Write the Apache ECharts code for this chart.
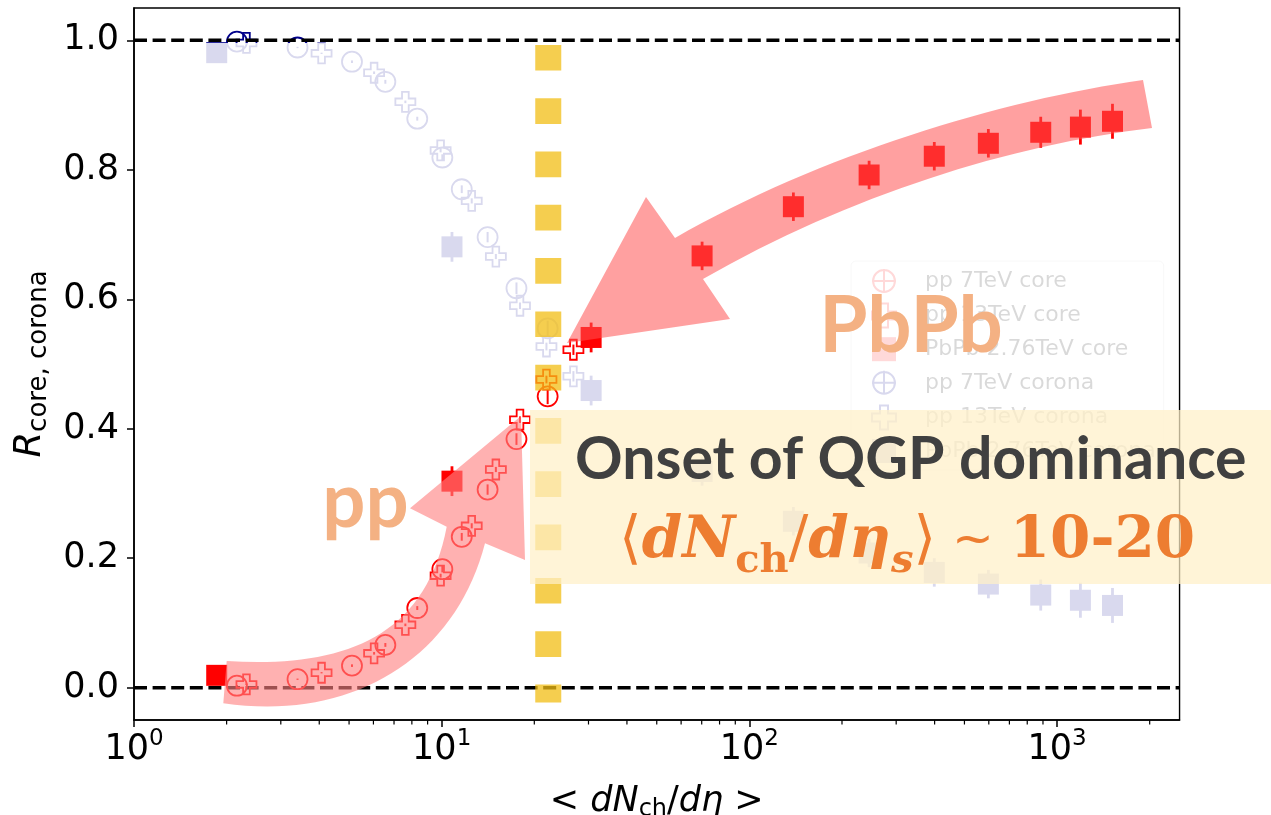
<!DOCTYPE html>
<html>
<head>
<meta charset="utf-8">
<script src="https://cdn.jsdelivr.net/npm/echarts@6/dist/echarts.min.js"></script>
<style>
  html, body { margin: 0; padding: 0; background: #ffffff; }
  #chart { width: 1271px; height: 815px; }
</style>
</head>
<body>
<div id="chart"></div>
<script>
// ---- event classes: <dN_ch/deta> and core / corona fractions ----
const pp7X       = [2.16, 3.40, 5.11, 6.56, 8.33, 10.05, 11.62, 14.1, 17.5, 22.1];
const pp7Core    = [0.003, 0.013, 0.034, 0.066, 0.123, 0.183, 0.233, 0.306, 0.384, 0.450];
const pp7Corona  = [0.998, 0.989, 0.967, 0.936, 0.879, 0.819, 0.770, 0.696, 0.617, 0.555];
const pp7Err     = [0.001, 0.001, 0.002, 0.003, 0.003, 0.005, 0.006, 0.008, 0.009, 0.012];

const pp13X      = [2.32, 4.07, 6.03, 7.62, 9.92, 12.52, 15.0, 17.97, 21.9, 26.8];
const pp13Core   = [0.005, 0.023, 0.053, 0.097, 0.173, 0.250, 0.337, 0.414, 0.476, 0.522];
const pp13Corona = [0.996, 0.980, 0.950, 0.905, 0.830, 0.752, 0.666, 0.590, 0.527, 0.481];
const pp13Err    = [0.001, 0.001, 0.002, 0.002, 0.003, 0.004, 0.004, 0.005, 0.006, 0.008];

const pbX        = [1.857, 10.8, 30.6, 70.2, 139, 245, 399, 598, 885, 1191, 1514];
const pbCore     = [0.019, 0.319, 0.541, 0.667, 0.743, 0.792, 0.821, 0.841, 0.858, 0.866, 0.875];
const pbCorona   = [0.981, 0.681, 0.459, 0.334, 0.257, 0.208, 0.178, 0.160, 0.143, 0.135, 0.127];
const pbErr      = [0.005, 0.023, 0.023, 0.022, 0.022, 0.022, 0.022, 0.022, 0.024, 0.027, 0.027];

// axes
const xRange     = [1, 2500];
const yRange     = [-0.05, 1.05];
const yTicks     = [0, 0.2, 0.4, 0.6, 0.8, 1.0];
const minorTicks = [2, 3, 4, 5, 6, 7, 8, 9, 20, 30, 40, 50, 60, 70, 80, 90,
                    200, 300, 400, 500, 600, 700, 800, 900, 2000];
const refLevels  = [0, 1];

// onset of QGP dominance marker
const onsetX     = 22.2;
const onsetSpan  = [0.993, -0.023];

const legendNames = ['pp 7TeV core', 'pp 13TeV core', 'PbPb 2.76TeV core',
                     'pp 7TeV corona', 'pp 13TeV corona', 'PbPb 2.76TeV corona'];

const RED  = '#ff0000';
const NAVY = '#00008b';
const ORANGE = '#ED7D31';
const CLEAR = 'rgba(0,0,0,0)';
const PLUS = 'path://M-1,-3L1,-3L1,-1L3,-1L3,1L1,1L1,3L-1,3L-1,1L-3,1L-3,-1L-1,-1Z';
const OPLUS = 'path://M0,-10A10,10,0,1,1,0,10A10,10,0,1,1,0,-10ZM-11,0L11,0M0,-11L0,11';
const SQUARE = 'path://M-1,-1L1,-1L1,1L-1,1Z';

const pairs = (xs, ys) => xs.map((x, i) => [x, ys[i]]);
const triples = (xs, ys, es) => xs.map((x, i) => [x, ys[i], es[i]]);

function errorBars(xs, ys, es, color, width, z) {
  return {
    type: 'custom', coordinateSystem: 'cartesian2d', silent: true, z: z,
    data: triples(xs, ys, es), encode: { x: 0, y: 1 },
    renderItem: function (params, api) {
      const x = api.value(0), y = api.value(1), e = api.value(2);
      const a = api.coord([x, y - e]);
      const b = api.coord([x, y + e]);
      return { type: 'line', shape: { x1: a[0], y1: a[1], x2: b[0], y2: b[1] },
               style: { stroke: color, lineWidth: width } };
    }
  };
}

function markers(name, xs, ys, symbol, size, hollow, color, z) {
  return {
    type: 'scatter', name: name, data: pairs(xs, ys), symbol: symbol, symbolSize: size, z: z,
    itemStyle: hollow ? { color: CLEAR, borderColor: color, borderWidth: 1.8, opacity: 1 }
                      : { color: color, opacity: 1 },
    emphasis: { disabled: true }, silent: true
  };
}

function refLine(level) {
  return {
    type: 'line', data: [[xRange[0], level], [xRange[1], level]], symbol: 'none', z: 10, silent: true,
    lineStyle: { color: '#000', width: 3.5, type: [13, 5.6] }
  };
}

const minorTickSeries = {
  type: 'custom', coordinateSystem: 'cartesian2d', silent: true, z: 3, clip: false,
  data: minorTicks.map(v => [v, yRange[0]]), encode: { x: 0, y: 1 },
  renderItem: function (params, api) {
    const p = api.coord([api.value(0), api.value(1)]);
    return { type: 'line', shape: { x1: p[0], y1: p[1], x2: p[0], y2: p[1] + 4.5 },
             style: { stroke: '#000', lineWidth: 1.2 } };
  }
};

// annotation arrows (pixel outlines)
const arrowShapes = [
  { path: 'M226.7,661 C340,668 425,640 446.7,526.7 L410,508.3 L521,416 L525,560 L485,543.3 ' +
          'C455,660 350,722 223.3,703.3 Z',
    fill: 'rgba(255,129,129,0.62)' },
  { path: 'M1143,80 C1000,100 820,155 675,238 L646,197 L567,343 L730,319 L703,279 ' +
          'C850,195 1010,145 1152,128 Z',
    fill: 'rgba(255,82,82,0.55)' }
];
const arrowSeries = {
  type: 'custom', coordinateSystem: 'none', silent: true, z: 14,
  data: arrowShapes.map((a, i) => [i]),
  renderItem: function (params) {
    const a = arrowShapes[params.dataIndex];
    return { type: 'path', shape: { pathData: a.path }, style: { fill: a.fill } };
  }
};

const series = [
  // corona (underneath the white veil)
  errorBars(pp7X, pp7Corona, pp7Err, NAVY, 2, 2),
  errorBars(pp13X, pp13Corona, pp13Err, NAVY, 2, 2),
  errorBars(pbX, pbCorona, pbErr, NAVY, 2.8, 2),
  markers(legendNames[3], pp7X, pp7Corona, 'circle', 20, true, NAVY, 2),
  markers(legendNames[4], pp13X, pp13Corona, PLUS, 20, true, NAVY, 2),
  markers(legendNames[5], pbX, pbCorona, 'rect', 21, false, NAVY, 2),
  // core
  errorBars(pp7X, pp7Core, pp7Err, RED, 2, 9),
  errorBars(pp13X, pp13Core, pp13Err, RED, 2, 9),
  errorBars(pbX, pbCore, pbErr, RED, 2.8, 9),
  markers(legendNames[0], pp7X, pp7Core, 'circle', 20, true, RED, 10),
  markers(legendNames[1], pp13X, pp13Core, PLUS, 20, true, RED, 10),
  markers(legendNames[2], pbX, pbCore, 'rect', 21, false, RED, 10),
  // guides
  refLine(refLevels[0]),
  refLine(refLevels[1]),
  {
    type: 'line', data: onsetSpan.map(v => [onsetX, v]), symbol: 'none', z: 11, silent: true,
    lineStyle: { color: 'rgba(242,190,20,0.75)', width: 26, type: [25.7, 27.6], cap: 'butt' }
  },
  minorTickSeries,
  arrowSeries
];

const legendIcon = (icon, color, filled) => filled
  ? { icon: icon, itemStyle: { color: color, borderWidth: 0 } }
  : { icon: icon, itemStyle: { color: CLEAR, borderColor: color, borderWidth: 2 } };
const legendStyles = [
  legendIcon(OPLUS, RED, false), legendIcon(PLUS, RED, false), legendIcon(SQUARE, RED, true),
  legendIcon(OPLUS, NAVY, false), legendIcon(PLUS, NAVY, false), legendIcon(SQUARE, NAVY, true)
];

const mathRich = {
  br:  { fontFamily: 'DejaVu Serif', fontSize: 58, fill: ORANGE, lineHeight: 80 },
  it:  { fontFamily: 'DejaVu Serif', fontStyle: 'italic', fontWeight: 'bold', fontSize: 58, fill: ORANGE, lineHeight: 80 },
  sub: { fontFamily: 'DejaVu Serif', fontWeight: 'bold', fontSize: 40, fill: ORANGE, verticalAlign: 'bottom', lineHeight: 48 },
  subi:{ fontFamily: 'DejaVu Serif', fontStyle: 'italic', fontWeight: 'bold', fontSize: 40, fill: ORANGE, verticalAlign: 'bottom', lineHeight: 48 },
  sp:  { fontFamily: 'DejaVu Sans', fontSize: 50, fill: ORANGE, lineHeight: 80 },
  num: { fontFamily: 'DejaVu Serif', fontWeight: 'bold', fontSize: 58, fill: ORANGE, lineHeight: 80 }
};

const chart = echarts.init(document.getElementById('chart'), null, { renderer: 'canvas' });
chart.setOption({
  animation: false,
  backgroundColor: '#ffffff',
  grid: {
    left: 134, top: 8, width: 1045.5, height: 712,
    show: true, borderColor: '#000', borderWidth: 1.5, backgroundColor: CLEAR,
    containLabel: false, outerBoundsMode: 'none'
  },
  xAxis: {
    type: 'log', logBase: 10, min: xRange[0], max: xRange[1],
    axisLine: { show: true, onZero: false, lineStyle: { color: '#000', width: 1.5 } },
    axisTick: { show: true, length: 7, lineStyle: { color: '#000', width: 1.5 } },
    splitLine: { show: false },
    minorTick: { show: false },
    axisLabel: {
      margin: 8, showMinLabel: true, showMaxLabel: false,
      formatter: v => '{b|10}{e|' + Math.round(Math.log10(v)) + '}',
      rich: {
        b: { fontFamily: 'DejaVu Sans', fontSize: 35, color: '#000', lineHeight: 44 },
        e: { fontFamily: 'DejaVu Sans', fontSize: 23, color: '#000', lineHeight: 24, verticalAlign: 'top' }
      }
    },
    name: '{u|< }{i|dN}{s|ch}{u|/}{i|dη}{u| >}',
    nameLocation: 'middle', nameGap: 62,
    nameTextStyle: {
      rich: {
        u: { fontFamily: 'DejaVu Sans', fontSize: 35, color: '#000', lineHeight: 40 },
        i: { fontFamily: 'DejaVu Sans', fontStyle: 'italic', fontSize: 35, color: '#000', lineHeight: 40 },
        s: { fontFamily: 'DejaVu Sans', fontSize: 24, color: '#000', lineHeight: 28, verticalAlign: 'bottom' }
      }
    }
  },
  yAxis: {
    type: 'value', min: yRange[0], max: yRange[1],
    axisLine: { show: true, onZero: false, lineStyle: { color: '#000', width: 1.5 } },
    axisTick: { show: true, length: 7, customValues: yTicks, lineStyle: { color: '#000', width: 1.5 } },
    splitLine: { show: false },
    axisLabel: {
      customValues: yTicks, margin: 15,
      formatter: v => v.toFixed(1),
      fontFamily: 'DejaVu Sans', fontSize: 35, color: '#000'
    },
    name: '{i|R}{s|core, corona}',
    nameLocation: 'middle', nameRotate: 90, nameGap: 80,
    nameTextStyle: {
      rich: {
        i: { fontFamily: 'DejaVu Sans', fontStyle: 'italic', fontSize: 37, color: '#000', lineHeight: 44 },
        s: { fontFamily: 'DejaVu Sans', fontSize: 26, color: '#000', lineHeight: 30, verticalAlign: 'bottom' }
      }
    }
  },
  legend: {
    show: true, orient: 'vertical', left: 851, top: 261,
    padding: [7, 8, 7, 20], itemGap: 8.6, itemWidth: 24, itemHeight: 24,
    backgroundColor: '#ffffff', borderColor: '#cccccc', borderWidth: 1, borderRadius: 5,
    selectedMode: false, z: 4,
    formatter: name => '{g| }{t|' + name + '}',
    textStyle: {
      fontFamily: 'DejaVu Sans', fontSize: 22, color: '#000', lineHeight: 24,
      rich: {
        g: { width: 24, fontSize: 22, lineHeight: 24 },
        t: { fontFamily: 'DejaVu Sans', fontSize: 22, color: '#000', lineHeight: 24 }
      }
    },
    data: legendNames.map((n, i) => Object.assign({ name: n }, legendStyles[i]))
  },
  graphic: [
    // white veil over the corona points and legend
    { type: 'rect', z: 5, silent: true, shape: { x: 135, y: 43, width: 1043.5, height: 676 },
      style: { fill: 'rgba(255,255,255,0.85)' } },
    // highlighted statement box
    { type: 'rect', z: 12, silent: true, shape: { x: 530, y: 410, width: 741, height: 174 },
      style: { fill: 'rgba(255,240,200,0.72)' } },
    { type: 'text', z: 13, silent: true, x: 575, y: 460,
      style: { text: 'Onset of QGP dominance', fill: '#404040', font: 'bold 59px Lato',
               textAlign: 'left', textVerticalAlign: 'middle' } },
    { type: 'text', z: 13, silent: true, x: 619, y: 542,
      style: { text: '{br|⟨}{it|dN}{sub|ch}{br|/}{it|dη}{subi|s}{br|⟩}{sp| ~ }{num|10-20}',
               rich: mathRich, fill: ORANGE, textAlign: 'left', textVerticalAlign: 'middle' } },
    // system labels
    { type: 'text', z: 15, silent: true, x: 365.5, y: 502,
      style: { text: 'pp', fill: '#F4B183', font: 'bold 76px Lato', textAlign: 'center', textVerticalAlign: 'middle' } },
    { type: 'text', z: 15, silent: true, x: 911, y: 327,
      style: { text: 'PbPb', fill: '#F4B183', font: 'bold 78px Lato', textAlign: 'center', textVerticalAlign: 'middle' } }
  ],
  series: series
});
</script>
</body>
</html>
